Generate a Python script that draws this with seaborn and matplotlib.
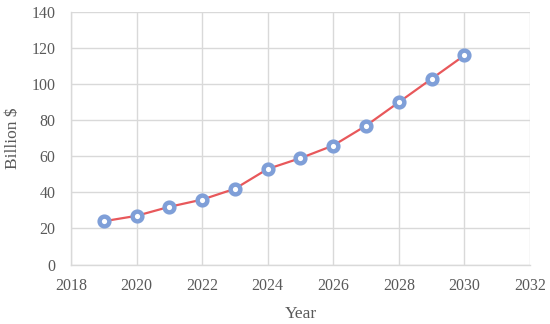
import pandas as pd
import matplotlib
matplotlib.use("Agg")
import matplotlib.pyplot as plt
import seaborn as sns

# Data
years = [2019, 2020, 2021, 2022, 2023, 2024, 2025, 2026, 2027, 2028, 2029, 2030]
billions = [24, 27, 32, 36, 42, 53, 59, 66, 77, 90, 103, 116]

df = pd.DataFrame({"Year": years, "Billion $": billions})

sns.set_style("whitegrid")
plt.rcParams["font.family"] = ["Liberation Serif", "DejaVu Serif"]

fig = plt.figure(figsize=(5.5, 3.24), dpi=100)
ax = fig.add_axes([0.129, 0.1836, 0.8345, 0.779])

sns.lineplot(
    data=df, x="Year", y="Billion $", ax=ax,
    color="#E8585B", linewidth=1.6,
    marker="o", markersize=7, markerfacecolor="white",
    markeredgecolor="#7F9FD8", markeredgewidth=3.2,
)

ax.set_xlim(2018, 2032)
ax.set_ylim(0, 140)
ax.set_xticks(range(2018, 2033, 2))
ax.set_yticks(range(0, 141, 20))
ax.grid(True, color="#D9D9D9", linewidth=1)
for s in ["top", "right"]:
    ax.spines[s].set_visible(False)
for s in ["left", "bottom"]:
    ax.spines[s].set_color("#D9D9D9")
    ax.spines[s].set_linewidth(1)
ax.tick_params(colors="#595959", labelsize=11.5, length=0)
ax.tick_params(axis="x", pad=10)
ax.tick_params(axis="y", pad=11)
ax.set_xlabel("Year", fontsize=12.5, color="#595959", labelpad=8)
ax.set_ylabel("Billion $", fontsize=12.5, color="#595959", labelpad=8)

fig.savefig("out.png", dpi=100)
